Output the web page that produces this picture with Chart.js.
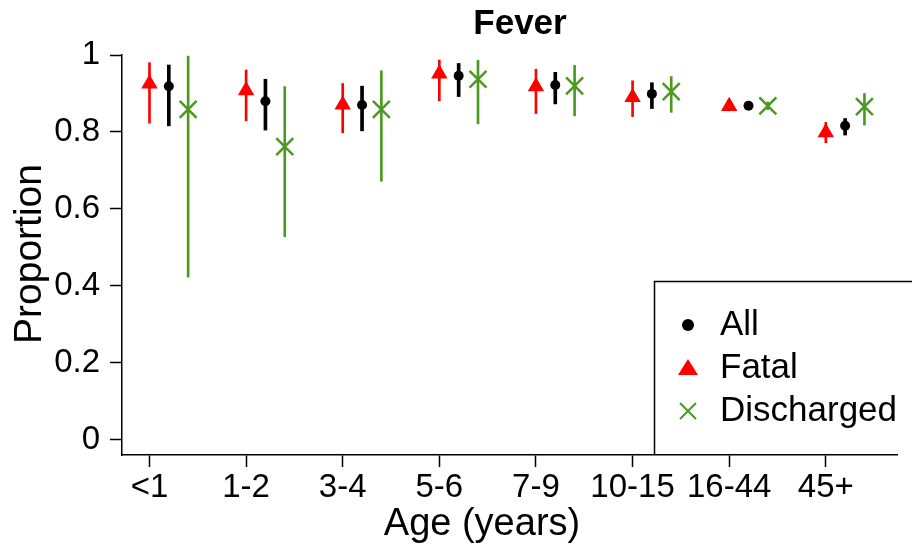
<!DOCTYPE html>
<html>
<head>
<meta charset="utf-8">
<title>Fever</title>
<script src="https://cdn.jsdelivr.net/npm/chart.js@4.4.0/dist/chart.umd.min.js"></script>
<style>
  html, body { margin: 0; padding: 0; background: #fff; }
</style>
</head>
<body>
<canvas id="chart" width="912" height="552"></canvas>
<script>
const categories = ["<1", "1-2", "3-4", "5-6", "7-9", "10-15", "16-44", "45+"];

// proportion with fever, point estimate and 95% interval per age group
const allMid  = [0.919, 0.880, 0.870, 0.946, 0.922, 0.899, 0.868, 0.816];
const allLow  = [0.816, 0.805, 0.803, 0.892, 0.873, 0.861, 0.861, 0.792];
const allHigh = [0.974, 0.937, 0.919, 0.978, 0.955, 0.928, 0.875, 0.835];

const fatalMid  = [0.925, 0.908, 0.871, 0.951, 0.918, 0.890, 0.867, 0.799];
const fatalLow  = [0.823, 0.829, 0.798, 0.881, 0.848, 0.840, 0.855, 0.772];
const fatalHigh = [0.980, 0.961, 0.926, 0.987, 0.963, 0.933, 0.878, 0.825];

const dischMid  = [0.859, 0.762, 0.859, 0.937, 0.920, 0.905, 0.868, 0.866];
const dischLow  = [0.423, 0.528, 0.672, 0.821, 0.842, 0.851, 0.858, 0.818];
const dischHigh = [0.997, 0.918, 0.959, 0.986, 0.973, 0.944, 0.878, 0.900];

const yTicks = [0, 0.2, 0.4, 0.6, 0.8, 1];
const yTickLabels = ["0", "0.2", "0.4", "0.6", "0.8", "1"];

// horizontal shift of each group inside an age category
const shift = { fatal: 0, all: 0.2, disch: 0.4 };

const RED = "#ff0000";
const BLACK = "#000000";
const GREEN = "#4a9a20";
const FONT = "'Liberation Sans', Arial, Helvetica, sans-serif";

function points(mid, off) {
  return mid.map((v, i) => ({ x: i + off, y: v }));
}
function ranges(lo, hi, off) {
  return lo.map((v, i) => ({ x: i + off, y: [v, hi[i]] }));
}

function errBars(lo, hi, off, color, w) {
  return {
    type: "bar",
    data: ranges(lo, hi, off),
    backgroundColor: color,
    borderWidth: 0,
    barThickness: w,
    grouped: false,
    order: 2,
    clip: false
  };
}

function marks(mid, off, style, color, radius, bw) {
  return {
    type: "scatter",
    data: points(mid, off),
    pointStyle: style,
    pointRadius: radius,
    pointHoverRadius: radius,
    backgroundColor: color,
    borderColor: color,
    borderWidth: bw,
    showLine: false,
    order: 1,
    clip: false
  };
}

// title, axis titles and the legend box
const decorations = {
  id: "decorations",
  afterDraw(chart) {
    const ctx = chart.ctx;
    ctx.save();
    ctx.fillStyle = "#000";
    ctx.textBaseline = "middle";
    ctx.textAlign = "center";

    ctx.font = "bold 35px " + FONT;
    ctx.fillText("Fever", 520, 24);

    ctx.font = "38px " + FONT;
    ctx.fillText("Age (years)", 482, 525);

    ctx.save();
    ctx.font = "39px " + FONT;
    ctx.translate(30, 254);
    ctx.rotate(-Math.PI / 2);
    ctx.fillText("Proportion", 0, 0);
    ctx.restore();

    // legend frame (runs off the right edge)
    const bottom = chart.chartArea.bottom;
    ctx.strokeStyle = "#000";
    ctx.lineWidth = 1.5;
    ctx.beginPath();
    ctx.moveTo(654.5, bottom);
    ctx.lineTo(654.5, 281.5);
    ctx.lineTo(912, 281.5);
    ctx.stroke();

    const sx = 688, tx = 720;
    const rows = [325, 368, 411];
    // All: filled dot
    ctx.fillStyle = BLACK;
    ctx.beginPath();
    ctx.arc(sx, rows[0], 6, 0, Math.PI * 2);
    ctx.fill();
    // Fatal: filled triangle
    ctx.fillStyle = RED;
    ctx.beginPath();
    ctx.moveTo(sx, rows[1] - 9);
    ctx.lineTo(sx + 10, rows[1] + 7);
    ctx.lineTo(sx - 10, rows[1] + 7);
    ctx.closePath();
    ctx.fill();
    // Discharged: thin cross
    ctx.strokeStyle = GREEN;
    ctx.lineWidth = 2;
    ctx.beginPath();
    ctx.moveTo(sx - 8, rows[2] - 8);
    ctx.lineTo(sx + 8, rows[2] + 8);
    ctx.moveTo(sx + 8, rows[2] - 8);
    ctx.lineTo(sx - 8, rows[2] + 8);
    ctx.stroke();

    ctx.fillStyle = "#000";
    ctx.textAlign = "left";
    ctx.font = "35px " + FONT;
    ctx.fillText("All", tx, rows[0]);
    ctx.fillText("Fatal", tx, rows[1]);
    ctx.fillText("Discharged", tx, rows[2]);
    ctx.restore();
  }
};

new Chart(document.getElementById("chart"), {
  type: "scatter",
  data: {
    datasets: [
      errBars(fatalLow, fatalHigh, shift.fatal, RED, 2),
      errBars(allLow, allHigh, shift.all, BLACK, 3),
      errBars(dischLow, dischHigh, shift.disch, GREEN, 2),
      marks(fatalMid, shift.fatal, "triangle", RED, 9.5, 0),
      marks(allMid, shift.all, "circle", BLACK, 5, 0),
      marks(dischMid, shift.disch, "crossRot", GREEN, 12, 2.5)
    ]
  },
  options: {
    responsive: false,
    animation: false,
    layout: { padding: { top: 55, right: 0, left: 0, bottom: 0 } },
    plugins: {
      legend: { display: false },
      tooltip: { enabled: false },
      title: { display: false }
    },
    scales: {
      x: {
        type: "linear",
        min: -0.2845,
        max: 7.742,
        offset: false,
        afterFit(s) { s.height = 97; },
        afterBuildTicks(s) { s.ticks = categories.map((c, i) => ({ value: i })); },
        ticks: {
          callback: (v, i) => categories[i],
          autoSkip: false,
          maxRotation: 0,
          padding: 1,
          color: "#000",
          font: { family: FONT, size: 33 }
        },
        grid: { offset: false, drawOnChartArea: false, drawTicks: true, tickLength: 12, tickColor: "#000", tickWidth: 1.5 },
        border: { display: true, color: "#000", width: 1.5 }
      },
      y: {
        type: "linear",
        min: -0.039,
        max: 1,
        afterFit(s) { s.width = 122; },
        afterBuildTicks(s) { s.ticks = yTicks.map(v => ({ value: v })); },
        ticks: {
          callback: (v, i) => yTickLabels[i],
          padding: 10,
          color: "#000",
          font: { family: FONT, size: 33 }
        },
        grid: { drawOnChartArea: false, drawTicks: true, tickLength: 12, tickColor: "#000", tickWidth: 1.5 },
        border: { display: true, color: "#000", width: 1.5 }
      }
    }
  },
  plugins: [decorations]
});
</script>
</body>
</html>
